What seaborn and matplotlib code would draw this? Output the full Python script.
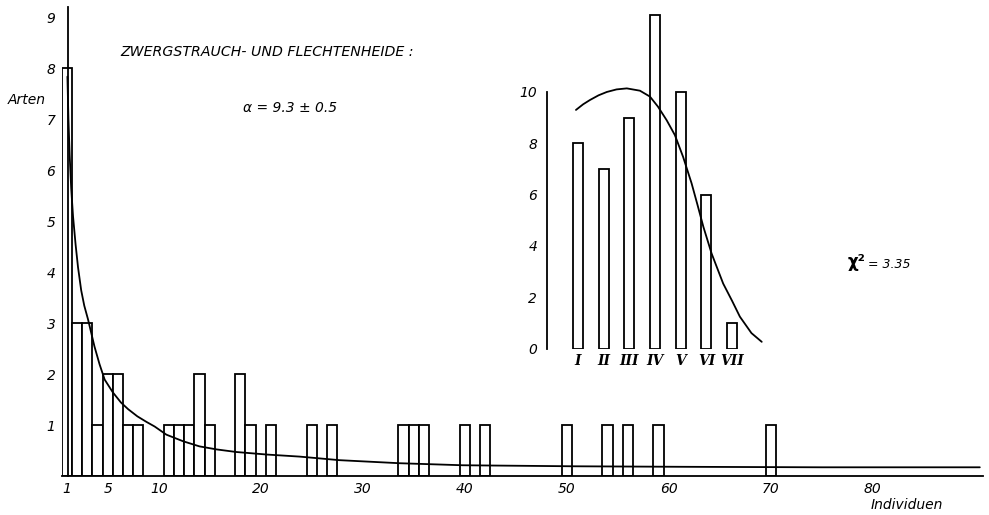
import matplotlib
matplotlib.use("Agg")
import matplotlib.pyplot as plt
import seaborn as sns

sns.set_theme(style="white", rc={"axes.edgecolor": "black", "xtick.color": "black",
                                 "ytick.color": "black", "text.color": "black"})
plt.rcParams["font.family"] = ["DejaVu Sans"]

# ---- main histogram: number of species (Arten) per number of individuals ----
individuen = [1, 2, 3, 4, 5, 6, 7, 8, 11, 12, 13, 14, 15, 18, 19, 21, 25, 27,
              34, 35, 36, 40, 42, 50, 54, 56, 59, 70]
arten = [8, 3, 3, 1, 2, 2, 1, 1, 1, 1, 1, 2, 1, 2, 1, 1, 1, 1,
         1, 1, 1, 1, 1, 1, 1, 1, 1, 1]

# fitted log-series curve
kurve_x = [1.05, 1.15, 1.27, 1.42, 1.6, 1.85, 2.09, 2.4, 2.7, 3.07, 3.7, 4.2, 4.7,
           5.5, 6.3, 7.0, 7.9, 8.8, 9.6, 10.75, 12.4, 14.0, 15.7, 17.6, 20.6, 23.8,
           27.7, 33.6, 39.8, 50.6, 61.0, 75.0, 90.5]
kurve_y = [7.84, 7.0, 6.3, 5.65, 5.1, 4.55, 4.1, 3.65, 3.35, 3.08, 2.55, 2.2, 1.9,
           1.65, 1.45, 1.32, 1.18, 1.07, 0.98, 0.82, 0.69, 0.59, 0.53, 0.48, 0.43,
           0.39, 0.32, 0.26, 0.22, 0.2, 0.19, 0.18, 0.18]

x_ticks = [1, 5, 10, 20, 30, 40, 50, 60, 70, 80]
y_ticks = [1, 2, 3, 4, 5, 6, 7, 8, 9]

# ---- inset: octave classes ----
klassen = ["I", "II", "III", "IV", "V", "VI", "VII"]
klassen_pos = [1, 2, 3, 4, 5, 6, 7]
klassen_arten = [8, 7, 9, 13, 10, 6, 1]

inset_x = [0.92, 1.2, 1.47, 1.8, 2.12, 2.5, 2.9, 3.41, 3.8, 4.11, 4.45, 4.77, 5.09,
           5.42, 5.65, 5.88, 6.2, 6.45, 6.65, 7.0, 7.3, 7.75, 8.15]
inset_y = [9.3, 9.52, 9.69, 9.87, 10.0, 10.1, 10.14, 10.05, 9.82, 9.43, 8.9, 8.32,
           7.47, 6.44, 5.6, 4.74, 3.7, 3.05, 2.53, 1.85, 1.24, 0.6, 0.26]
inset_yticks = [0, 1, 2, 3, 4, 5, 6, 7, 8, 9, 10]

fig = plt.figure(figsize=(9.89, 5.15), dpi=100)

# ---------------- main axes ----------------
ax = fig.add_axes([0.0625, 0.0748, 0.9313, 0.9111])
ax.patch.set_alpha(0)
sns.barplot(x=individuen, y=arten, native_scale=True, width=1.0, color="white",
            edgecolor="black", linewidth=1.3, errorbar=None, ax=ax)
sns.lineplot(x=kurve_x, y=kurve_y, color="black", linewidth=1.3, estimator=None,
             sort=False, ax=ax)
ax.set_xlim(0.5, 90.8)
ax.set_ylim(0, 9.2)
for s in ["top", "right"]:
    ax.spines[s].set_visible(False)
ax.spines["left"].set_position(("data", 1.1))
for s in ["left", "bottom"]:
    ax.spines[s].set_linewidth(1.3)
ax.set_xticks(x_ticks)
ax.set_xticklabels([str(v) for v in x_ticks], fontsize=10, style="italic")
ax.set_yticks(y_ticks)
ax.set_yticklabels([str(v) for v in y_ticks], fontsize=10, style="italic")
ax.tick_params(axis="both", length=0)
ax.tick_params(axis="x", pad=4)
ax.tick_params(axis="y", pad=9)
ax.set_xlabel("")
ax.set_ylabel("")

# ---------------- inset axes ----------------
axi = fig.add_axes([0.553, 0.3233, 0.2211, 0.6575])
axi.patch.set_alpha(0)
sns.barplot(x=klassen_pos, y=klassen_arten, native_scale=True, width=0.39, color="white",
            edgecolor="black", linewidth=1.3, errorbar=None, ax=axi)
sns.lineplot(x=inset_x, y=inset_y, color="black", linewidth=1.3, estimator=None,
             sort=False, ax=axi)
axi.set_xlim(-0.21, 8.3)
axi.set_ylim(0, 13.2)
for s in ["top", "right", "bottom"]:
    axi.spines[s].set_visible(False)
axi.spines["left"].set_bounds(0, 10)
axi.spines["left"].set_linewidth(1.3)
axi.set_yticks(inset_yticks)
axi.set_yticklabels([str(v) if v % 2 == 0 else "" for v in inset_yticks],
                    fontsize=10, style="italic")
axi.set_xticks(klassen_pos)
axi.set_xticklabels(klassen, fontsize=10, style="italic", fontweight="bold",
                    family="DejaVu Serif")
axi.tick_params(axis="y", direction="inout", length=8, width=1.2, pad=3)
axi.tick_params(axis="x", length=0, pad=4)
axi.set_xlabel("")
axi.set_ylabel("")

# ---------------- texts ----------------
W, H = 989, 515
fig.text(120 / W, 1 - 52 / H, "ZWERGSTRAUCH- UND FLECHTENHEIDE :", fontsize=10.2,
         style="italic", ha="left", va="center")
fig.text(243 / W, 1 - 108 / H, "α = 9.3 ± 0.5", fontsize=10, style="italic",
         ha="left", va="center")
fig.text(8 / W, 1 - 100 / H, "Arten", fontsize=10, style="italic", ha="left", va="center")
fig.text(871 / W, 1 - 505 / H, "Individuen", fontsize=10, style="italic", ha="left",
         va="center")
fig.text(848 / W, 1 - 262 / H, "χ²", fontsize=12, fontweight="bold", ha="left",
         va="center")
fig.text(868 / W, 1 - 264 / H, "= 3.35", fontsize=9, style="italic", ha="left",
         va="center")

fig.savefig("out.png", dpi=100, facecolor="white")
